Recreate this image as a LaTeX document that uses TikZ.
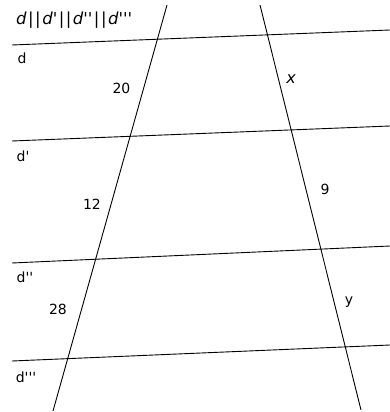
\documentclass[tikz,border=0pt]{standalone}
\usepackage{fontspec}
\setmainfont{DejaVu Sans}
\newcommand{\pq}{\textquotesingle}
\begin{document}
\begin{tikzpicture}[x=1pt,y=-1pt,
  ln/.style={line width=0.9pt,black},
  lab/.style={font=\fontsize{14}{16}\selectfont,inner sep=0pt}]
\useasboundingbox (0,0) rectangle (390,412);
% horizontal lines
\coordinate (d1) at (12,45);  \coordinate (d2) at (390,30);
\coordinate (e1) at (12,141); \coordinate (e2) at (390,126);
\coordinate (f1) at (12,263); \coordinate (f2) at (390,246);
\coordinate (g1) at (12,361); \coordinate (g2) at (390,345);
% transversals
\coordinate (l1) at (167,5); \coordinate (l2) at (53,411);
\coordinate (r1) at (260,5); \coordinate (r2) at (361,410);
\draw[ln] (d1) -- (d2);
\draw[ln] (e1) -- (e2);
\draw[ln] (f1) -- (f2);
\draw[ln] (g1) -- (g2);
\draw[ln] (l1) -- (l2);
\draw[ln] (r1) -- (r2);
% labels
\node[lab,anchor=west,font=\fontsize{16.5}{18}\selectfont] (t) at (16,20) {\itshape d\kern1.5pt|\kern1.5pt|\kern1.5pt d\pq\kern1.5pt|\kern1.5pt|\kern1.5pt d\pq\pq\kern1.5pt|\kern1.5pt|\kern1.5pt d\pq\pq\pq};
\node[lab] (ld) at (22,58) {d};
\node[lab] (le) at (23,156) {d\pq};
\node[lab] (lf) at (25,277) {d\pq\pq};
\node[lab] (lg) at (26,377) {d\pq\pq\pq};
\node[lab] (n20) at (121.5,88.5) {20};
\node[lab] (n12) at (92,204) {12};
\node[lab] (n28) at (58,309) {28};
\node[lab,font=\fontsize{16}{18}\selectfont] (nx) at (291,79) {\itshape x};
\node[lab] (n9) at (325,189) {9};
\node[lab] (ny) at (349,302) {y};
\end{tikzpicture}
\end{document}
